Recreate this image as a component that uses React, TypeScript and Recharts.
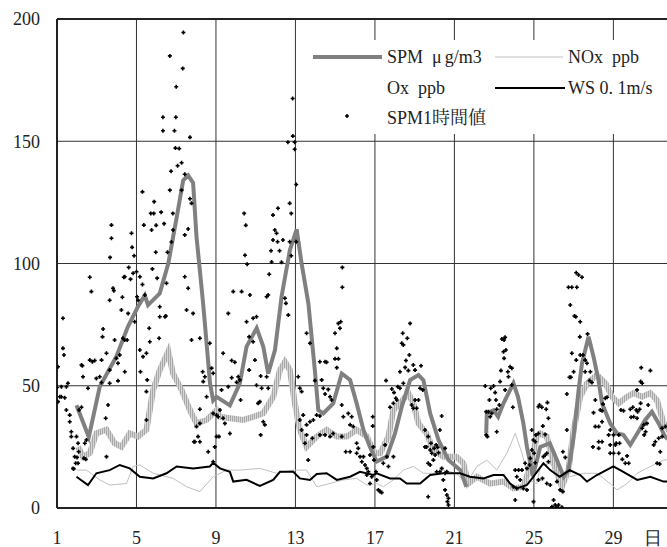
import React from "react"
import { ComposedChart, Line, Scatter, XAxis, YAxis, CartesianGrid, ReferenceLine } from "recharts"

// day (1 = 1st of month), value
const spm: (number | null)[][] = [
    [1.98, 42], [2.6, 29], [3.15, 49.6], [3.99, 62], [4.56, 74], [5.07, 82.3], [5.42, 87], [5.58, 83],
    [6.17, 87.8], [6.6, 100], [7.0, 117.8], [7.35, 134], [7.6, 136], [7.85, 133], [8.02, 111], [8.35, 84],
    [8.5, 70], [8.7, 51], [8.86, 44], [9.03, 45.5], [9.7, 42], [10.2, 51], [10.54, 66], [11.05, 73.6],
    [11.38, 66], [11.63, 55], [11.97, 64.6], [12.3, 86.4], [12.72, 105.5], [13.06, 114], [13.31, 100],
    [13.65, 83.7], [13.98, 56], [14.15, 40], [14.4, 38.7], [14.9, 42.8], [15.33, 55], [15.75, 52.4],
    [16.08, 42.8], [16.42, 32], [16.75, 25], [17.09, 19], [17.6, 21], [18.01, 30.5], [18.35, 41.4],
    [18.77, 52.3], [19.19, 54.4], [19.44, 52.3], [19.78, 38.7], [20.2, 27.8], [20.7, 19.6], [21.3, 15.5],
    [21.6, 8.7], [22.1, null], [22.6, 30.5], [22.63, 38.7], [22.97, 40], [23.2, 37.3], [23.47, 42.8],
    [23.97, 51], [24.2, 45.5], [24.47, 34.6], [24.65, 25], [24.95, 13], [25.32, 25], [25.8, 26.5],
    [26.16, 19.6], [26.5, 12.8], [26.74, 15.5], [27.0, 29.2], [27.25, 48.3], [27.42, 59.2], [27.75, 70],
    [28.0, 61.9], [28.25, 52.3], [28.43, 42.8], [28.84, 34.6], [29.18, 30.5], [29.5, 29.9], [29.85, 25.8],
    [30.2, 30.5], [30.6, 36], [30.94, 39.4], [31.28, 34.6], [31.6, 29.2], [31.95, 27],
]

const nox = [
    [1.98, 15.5], [2.48, 15.5], [3.15, 11.5], [3.65, 9.4], [4.5, 10], [4.83, 17], [5.17, 17.6], [5.84, 14.2],
    [6.85, 12.1], [7.52, 8.7], [8.19, 6.7], [8.86, 12.8], [9.53, 15.5], [10.2, 15.5], [11.21, 16.2],
    [12.05, 14.2], [12.89, 15.5], [13.39, 15.5], [13.56, 15.5], [14.07, 8.7], [14.74, 10], [15.41, 11.5],
    [16.08, 12.1], [16.59, 9.4], [17.09, 10], [17.43, 8.7], [17.93, 11.5], [18.43, 15.5], [18.93, 17],
    [19.44, 14.2], [19.94, 14.2], [20.44, 15.5], [21.1, 14.2], [21.6, 10], [22.13, 17], [22.63, 19.6],
    [23.13, 15.5], [23.64, 22.4], [24.06, 30.5], [24.4, 22.4], [24.73, 11.5], [25.15, 10], [25.32, 17],
    [25.82, 18.3], [26.3, 12.8], [26.8, 12.8], [27.5, 14.2], [28.17, 14.2], [28.84, 10], [29.18, 7.4],
    [29.69, 10], [30.2, 14.2], [30.86, 17], [31.53, 19.6], [31.95, 20],
]

const ox = [
    [2.06, 25], [2.31, 21], [2.65, 22.4], [2.98, 30.5], [3.49, 32], [3.9, 26.5], [4.24, 25], [4.66, 30.5],
    [5.08, 29.2], [5.5, 32], [5.84, 48.3], [6.17, 56.4], [6.6, 64], [6.84, 55], [7.27, 48.3], [7.69, 40],
    [8.02, 34.6], [8.53, 36], [9.03, 40], [9.2, 37.3], [9.7, 36.7], [10.37, 36], [10.87, 37.3], [11.38, 38.7],
    [11.88, 45.5], [12.22, 56.4], [12.47, 59.8], [12.72, 56.4], [12.97, 42.8], [13.22, 32], [13.56, 25],
    [14.07, 29.2], [14.57, 32], [15.08, 29.2], [15.58, 29.2], [16.08, 32], [16.59, 29.2], [16.75, 26.5],
    [17.0, 22.4], [17.26, 22.4], [17.68, 29.2], [17.93, 40], [18.26, 42.8], [18.68, 47], [18.93, 42.8],
    [19.19, 34.6], [19.6, 30.5], [19.94, 23.7], [20.44, 21], [21.1, 21], [21.45, 18.3], [21.7, 10],
    [22.13, 12.8], [22.8, 10], [23.47, 10.8], [23.97, 8], [24.47, 8.7], [24.81, 17], [25.15, 29.2],
    [25.32, 30.5], [25.65, 29.2], [25.99, 18.3], [26.41, 8.7], [26.74, 15.5], [27.0, 32], [27.33, 45.5],
    [27.67, 51], [28.17, 54.4], [28.6, 51], [28.93, 45.5], [29.27, 42.8], [29.69, 45.5], [30.02, 47],
    [30.44, 45.5], [30.86, 47], [31.2, 44], [31.53, 34.6], [31.95, 30],
]

const ws = [
    [1.98, 12.8], [2.56, 9.4], [2.98, 14.2], [3.65, 15.5], [4.16, 17.6], [4.66, 16.2], [5.17, 12.8],
    [5.84, 12.1], [6.51, 14.2], [7.02, 17], [7.85, 16.2], [8.69, 17], [8.86, 18.5], [9.2, 16.2], [9.7, 14.8],
    [9.87, 10.8], [10.54, 11.5], [11.21, 9], [11.88, 11.5], [12.22, 14.8], [12.89, 14.8], [13.22, 12.1],
    [13.73, 11.5], [14.07, 13.9], [14.57, 14.2], [15.08, 11.5], [15.75, 12.8], [16.25, 14.8], [16.92, 13.5],
    [17.09, 14.2], [17.76, 12.1], [18.26, 12.1], [18.6, 10], [19.27, 10], [19.78, 13.5], [20.44, 14.2],
    [21.28, 14.2], [21.78, 12.8], [22.46, 12.1], [22.97, 13.5], [23.47, 13.5], [23.8, 10], [24.14, 8],
    [24.65, 9.4], [24.98, 12.8], [25.1, 14.2], [25.48, 18.3], [25.82, 15.5], [26.3, 12.8], [26.8, 15.5],
    [27.33, 13.5], [27.67, 10.8], [28.17, 13.5], [29.0, 17], [29.5, 14.8], [30.2, 11.5], [30.86, 12.8],
    [31.53, 10.8], [31.95, 11],
]

const spmHourly = [
    [1.0, 49.3], [1.05, 57.8], [1.05, 43.5], [1.14, 45.5], [1.22, 49.6], [1.22, 45.5], [1.3, 77.6], [1.3, 65.3],
    [1.35, 62.6], [1.39, 45.1], [1.47, 49.6], [1.55, 51], [1.47, 40.1], [1.64, 38], [1.64, 35.3], [1.72, 31.2],
    [1.72, 29.2], [1.81, 24.4], [1.81, 16.2], [1.84, 16], [1.89, 21], [1.94, 18.3], [1.98, 29.2], [2.01, 20.7],
    [2.06, 26.5], [2.06, 18.3], [2.09, 23], [2.11, 40.1], [2.23, 41.2], [2.23, 58.5], [2.28, 58.2], [2.31, 53.7],
    [2.35, 20.3], [2.4, 26.5], [2.45, 19.9], [2.48, 27.8], [2.56, 49], [2.65, 60.5], [2.65, 94.4], [2.73, 88.5],
    [2.78, 59.8], [2.9, 60.3], [2.98, 53], [3.15, 53.7], [3.24, 60.5], [3.24, 51.3], [3.29, 70], [3.32, 73.2],
    [3.45, 36.7], [3.49, 63.3], [3.49, 21], [3.57, 42.1], [3.65, 85], [3.65, 56.4], [3.65, 51], [3.67, 102.5],
    [3.74, 115.7], [3.74, 110.3], [3.82, 89.9], [3.86, 88.9], [3.9, 68.7], [3.99, 61.2], [4.07, 59.2],
    [4.07, 52], [4.16, 62.6], [4.24, 81], [4.29, 86.2], [4.32, 69.4], [4.36, 94.4], [4.41, 68.7], [4.41, 94.6],
    [4.41, 55.7], [4.53, 68.7], [4.58, 79.6], [4.61, 98.4], [4.7, 93.6], [4.75, 112.4], [4.78, 106.6],
    [4.83, 96], [4.88, 103.2], [4.91, 76.2], [5.0, 96.6], [5.03, 86.4], [5.08, 85], [5.17, 94.6], [5.17, 64.6],
    [5.2, 55.7], [5.3, 129.3], [5.3, 91.4], [5.33, 61.9], [5.37, 115.7], [5.42, 87.1], [5.5, 63.3], [5.5, 47.6],
    [5.5, 36], [5.54, 52.4], [5.64, 73.5], [5.67, 68], [5.72, 120.5], [5.76, 113.7], [5.8, 97.8], [5.87, 120.5],
    [5.89, 125.3], [5.97, 104.6], [5.99, 115.6], [6.04, 94], [6.14, 69.4], [6.17, 78.2], [6.17, 82.3],
    [6.24, 121], [6.33, 159.8], [6.33, 154.3], [6.39, 116.3], [6.43, 78.2], [6.48, 78.5], [6.51, 91.9],
    [6.56, 104.6], [6.68, 184.9], [6.68, 130], [6.74, 137.7], [6.76, 108.8], [6.83, 120.5], [6.84, 113.7],
    [6.91, 154.3], [6.96, 147.2], [6.98, 159.8], [7.0, 172.3], [7.07, 140], [7.15, 147], [7.27, 141.2],
    [7.27, 130], [7.33, 179.8], [7.36, 194.5], [7.43, 136.5], [7.43, 111.7], [7.43, 94.6], [7.52, 81],
    [7.6, 114.1], [7.6, 89.9], [7.69, 151.6], [7.69, 126.5], [7.77, 124.6], [7.77, 68.7], [7.85, 79.6],
    [7.89, 27.1], [7.94, 27.1], [8.02, 33.3], [8.1, 29.2], [8.19, 69.4], [8.19, 40.4], [8.19, 34.6],
    [8.19, 27.1], [8.33, 55.7], [8.36, 51.7], [8.44, 53.7], [8.53, 45.5], [8.61, 23], [8.69, 67.4],
    [8.78, 57.2], [8.86, 55.1], [8.86, 38.7], [8.86, 18.9], [8.94, 25], [9.03, 38], [9.03, 29.2], [9.11, 37.3],
    [9.15, 29.2], [9.2, 40.1], [9.28, 48.3], [9.36, 63.3], [9.36, 36.7], [9.45, 34.6], [9.62, 79.6],
    [9.62, 49.6], [9.7, 30.5], [9.79, 60.3], [9.79, 53.3], [9.87, 88.5], [9.95, 59.6], [10.04, 51.4],
    [10.12, 53.7], [10.2, 52.4], [10.24, 44.2], [10.29, 88.5], [10.42, 120.5], [10.46, 103.4], [10.5, 115.6],
    [10.54, 76.2], [10.57, 99.7], [10.67, 70], [10.67, 56.4], [10.71, 87.1], [10.87, 77.6], [10.87, 68],
    [10.96, 60.5], [11.04, 78.2], [11.04, 50.2], [11.12, 42.8], [11.21, 43.5], [11.25, 54], [11.25, 29.9],
    [11.3, 49], [11.38, 35.3], [11.46, 34], [11.55, 86.4], [11.55, 53.7], [11.63, 87.1], [11.63, 49],
    [11.68, 95.6], [11.77, 105.2], [11.8, 100.6], [11.87, 119.8], [11.87, 109.6], [11.96, 113.7],
    [12.05, 112.4], [12.12, 122.6], [12.1, 108.9], [12.2, 105.2], [12.3, 100.5], [12.37, 109.6],
    [12.47, 85.8], [12.52, 83.7], [12.62, 149.6], [12.64, 78.9], [12.71, 124.6], [12.71, 108.9],
    [12.79, 120.5], [12.79, 103.2], [12.86, 167.5], [12.87, 152.1], [12.96, 149.6], [12.96, 146.7],
    [13.04, 132.3], [13.04, 108.9], [13.14, 53.7], [13.22, 49], [13.22, 36], [13.31, 47.6], [13.31, 31.9],
    [13.39, 38], [13.48, 26.5], [13.56, 71.5], [13.56, 34], [13.56, 29.9], [13.64, 19.6], [13.73, 67.4],
    [13.73, 35.3], [13.85, 28.5], [13.9, 36], [13.98, 52.1], [14.07, 38], [14.23, 59.8], [14.23, 37.6],
    [14.23, 29.9], [14.32, 52.4], [14.4, 49], [14.49, 59.8], [14.49, 46.6], [14.49, 29.9], [14.57, 59.6],
    [14.65, 48.5], [14.74, 45.5], [14.74, 29.2], [14.82, 44.2], [14.9, 30.5], [14.99, 71.5], [14.99, 61],
    [15.08, 65.3], [15.08, 57.4], [15.16, 75.5], [15.16, 61], [15.24, 73.5], [15.28, 76.2], [15.33, 42.1],
    [15.33, 29.2], [15.36, 98.4], [15.36, 90.3], [15.41, 37.3], [15.53, 23], [15.66, 38.7], [15.75, 34],
    [15.75, 23], [15.83, 37.3], [15.91, 33.3], [16.08, 26.5], [16.08, 22.4], [16.16, 24.4], [16.25, 21],
    [16.34, 18.9], [16.42, 21], [16.5, 17.6], [16.59, 16.2], [16.59, 13.5], [16.67, 14.8], [16.75, 10],
    [16.75, 21.7], [16.84, 12.8], [16.89, 37.3], [16.89, 33.5], [16.92, 25], [16.95, 19.6], [17.05, 14.8],
    [17.09, 11.5], [17.17, 7.4], [17.26, 6.7], [17.34, 6.3], [17.42, 18.3], [17.51, 25.8], [17.56, 52.1],
    [17.6, 21], [17.68, 17], [17.76, 41.2], [17.85, 48.7], [17.93, 42.8], [17.93, 21], [17.96, 47.2],
    [18.05, 44.9], [18.1, 44.2], [18.15, 49.6], [18.26, 49], [18.26, 55.7], [18.35, 67.4], [18.4, 71.5],
    [18.43, 66.7], [18.43, 51], [18.52, 57.5], [18.56, 60.3], [18.63, 69.4], [18.68, 56.2], [18.73, 62.6],
    [18.77, 75.5], [18.85, 42.1], [18.93, 58.5], [18.93, 40.8], [19.02, 56.4], [19.02, 44.2], [19.1, 40.8],
    [19.19, 44.2], [19.27, 49], [19.32, 58.2], [19.41, 48.3], [19.52, 31.9], [19.52, 25], [19.6, 25],
    [19.68, 29.2], [19.68, 18.3], [19.68, 4.6], [19.78, 23.7], [19.78, 17.6], [19.82, 26.5], [19.86, 22.4],
    [19.94, 19.6], [19.98, 24.4], [20.03, 21.7], [20.08, 25.8], [20.11, 14.8], [20.16, 24.8], [20.2, 22.6],
    [20.27, 31.9], [20.27, 14.8], [20.36, 37.6], [20.36, 16.2], [20.44, 11.5], [20.53, 24.4], [20.53, 14.2],
    [20.53, 7.4], [20.62, 14.8], [20.62, 5.3], [20.65, 2.6], [20.7, 4], [20.7, 1.2],
    [22.55, 49.9], [22.6, 39.4], [22.6, 29.9], [22.66, 29.2], [22.71, 39.4], [22.76, 44.2], [22.8, 37.3],
    [22.83, 49], [22.88, 38.7], [22.97, 49.9], [23.05, 47.2], [23.09, 44.2], [23.13, 40.4], [23.13, 31.2],
    [23.26, 42.1], [23.3, 51.7], [23.34, 56.2], [23.39, 69.1], [23.47, 63.9], [23.5, 68.7], [23.5, 61.2],
    [23.55, 69.8], [23.55, 48.3], [23.59, 64.6], [23.69, 55.7], [23.72, 53.7], [23.8, 57.8], [23.89, 57.2],
    [23.89, 50.3], [23.94, 41.2], [23.97, 8.7], [24.06, 15.5], [24.06, 3.3], [24.14, 12.8], [24.14, 8],
    [24.23, 15.5], [24.31, 11.5], [24.4, 15.5], [24.47, 8], [24.56, 18.3], [24.65, 16.2], [24.65, 7.4],
    [24.78, 17.6], [24.82, 20.3], [24.89, 31.9], [24.9, 23.7], [24.97, 27.8], [24.98, 2.6], [25.01, 22.4],
    [25.07, 27.1], [25.07, 18.5], [25.1, 29.9], [25.23, 30.5], [25.23, 41.4], [25.23, 11.5], [25.28, 42.1],
    [25.4, 41.2], [25.43, 12.1], [25.45, 33.5], [25.48, 21], [25.57, 30.1], [25.57, 21.7], [25.62, 40.4],
    [25.65, 22.4], [25.65, 10], [25.68, 43.1], [25.73, 36.7], [25.73, 18.9], [25.82, 9.4], [25.91, 0.5],
    [25.99, 3.3], [26.07, 1.2], [26.16, 0.3], [26.16, 10.8], [26.24, 1.2], [26.32, 7.4], [26.41, 0.3],
    [26.46, 6.7], [26.46, 23], [26.58, 20.7], [26.66, 46.6], [26.66, 31.9], [26.74, 90.3], [26.79, 53.5],
    [26.83, 83], [26.86, 53.5], [26.91, 90.3], [26.91, 63.3], [27.0, 55.7], [27.04, 78.5], [27.11, 78.2],
    [27.13, 96.2], [27.13, 60.5], [27.16, 90.3], [27.25, 95.3], [27.31, 70], [27.33, 76.2], [27.33, 62.6],
    [27.42, 94.4], [27.47, 62.6], [27.58, 60.5], [27.58, 55.7], [27.67, 59.2], [27.7, 71.2], [27.8, 52.1],
    [27.84, 55.7], [27.92, 51.3], [27.97, 25], [28.0, 39], [28.09, 44.2], [28.09, 33.3], [28.26, 33.3],
    [28.26, 27.1], [28.26, 24.4], [28.34, 40.1], [28.43, 39.8], [28.43, 35.3], [28.43, 27.1], [28.48, 42.5],
    [28.59, 44.9], [28.68, 45.3], [28.76, 29.9], [28.84, 31.9], [28.84, 25.8], [28.84, 22.4], [29.01, 29.9],
    [29.01, 22.4], [29.1, 25.8], [29.14, 26.5], [29.27, 29.9], [29.27, 22.4], [29.31, 26.5], [29.38, 40.1],
    [29.45, 19.9], [29.51, 39.8], [29.6, 18.3], [29.69, 21.3], [29.77, 18.3], [29.85, 40.4], [29.89, 37.1],
    [29.98, 41.2], [30.02, 37.3], [30.15, 40.1], [30.19, 48.3], [30.19, 36.7], [30.22, 39.4], [30.32, 40.4],
    [30.37, 51.7], [30.37, 42.8], [30.4, 57.4], [30.45, 51], [30.45, 32.6], [30.53, 34], [30.55, 29.9],
    [30.62, 31.2], [30.69, 34.6], [30.75, 42.1], [30.86, 56.2], [31.03, 25.8], [31.11, 27.1], [31.2, 18.3],
    [31.28, 28.5], [31.33, 18], [31.36, 23], [31.45, 29.2], [31.45, 32.6], [31.62, 33.3],
]

const xDomain = [1, 32]
const xTicks = [1, 5, 9, 13, 17, 21, 25, 29, 31]
const gridDays = [5, 9, 13, 17, 21, 25, 29]
const yTicks = [0, 50, 100, 150, 200]

const toRows = (arr: (number | null)[][]) => arr.map(([d, v]) => ({ d, v }))

const FONT = "'Liberation Serif', 'Times New Roman', 'DejaVu Serif', serif"
const JP_FONT = "'Noto Serif CJK JP', 'Noto Sans CJK JP', serif"
const INK = "#222"

const Dot = (props: any) => {
    const { cx, cy } = props
    if (cx == null || cy == null) return null
    return <path d={`M${cx - 2},${cy}h4M${cx},${cy - 2}v4`} stroke="#000" strokeWidth={1.6} />
}

function LegendBox() {
    const text: React.CSSProperties = { position: "absolute", fontFamily: FONT, fontSize: 18, color: INK, whiteSpace: "pre", lineHeight: "20px" }
    return (
        <div style={{ position: "absolute", left: 305, top: 40, width: 400, height: 94, background: "#fff" }}>
            <svg width={400} height={94} style={{ position: "absolute", left: 0, top: 0 }}>
                <line x1={8} x2={77} y1={17} y2={17} stroke="#808080" strokeWidth={4} />
                <line x1={190} x2={258} y1={17} y2={17} stroke="#c0c0c0" strokeWidth={1} />
                <line x1={190} x2={260} y1={48} y2={48} stroke="#000" strokeWidth={2} />
                <path d="M40,76h4M42,74v4" stroke="#000" strokeWidth={1.6} />
            </svg>
            <div style={{ ...text, left: 82, top: 7 }}>SPM  <span style={{ letterSpacing: 3 }}>μ</span>g/m3</div>
            <div style={{ ...text, left: 263, top: 7 }}>NOx  ppb</div>
            <div style={{ ...text, left: 82, top: 38 }}>Ox  ppb</div>
            <div style={{ ...text, left: 263, top: 38 }}>WS 0. 1m/s</div>
            <div style={{ ...text, left: 82, top: 66 }}>SPM1<span style={{ fontFamily: JP_FONT }}>時間値</span></div>
        </div>
    )
}

// vertical grid at the day ticks (the "日" tick has no grid line)
const verticalGrid = ({ offset }: any) =>
    gridDays.map((d) => offset.left + ((d - xDomain[0]) / (xDomain[1] - xDomain[0])) * offset.width)

export default function App() {
    const axisLine = { stroke: INK, strokeWidth: 2 }
    const tick = { fill: INK, fontSize: 18, fontFamily: FONT }
    return (
        <div style={{ position: "absolute", left: 0, top: 0, width: 667, height: 547, overflow: "hidden", background: "#fff" }}>
            <ComposedChart width={673} height={547} margin={{ top: 19, right: 0, bottom: 0, left: 0 }}>
                <defs>
                    <pattern id="oxHatch" patternUnits="userSpaceOnUse" width={2} height={2}>
                        <rect x={0} y={0} width={1} height={2} fill="#a8a8a8" />
                        <rect x={1} y={0} width={1} height={2} fill="#d6d6d6" />
                    </pattern>
                </defs>
                <CartesianGrid stroke="#333" strokeWidth={1} verticalCoordinatesGenerator={verticalGrid} />
                <XAxis
                    type="number"
                    dataKey="d"
                    domain={xDomain}
                    ticks={xTicks}
                    interval={0}
                    tickFormatter={(t: number) => (t === 31 ? "日" : String(t))}
                    height={39}
                    tickSize={0}
                    tickMargin={23}
                    axisLine={axisLine}
                    tick={tick}
                    allowDataOverflow
                />
                <YAxis
                    type="number"
                    dataKey="v"
                    domain={[0, 200]}
                    ticks={yTicks}
                    interval={0}
                    width={57}
                    tickSize={0}
                    tickMargin={17}
                    axisLine={axisLine}
                    tick={tick}
                    allowDataOverflow
                />
                <ReferenceLine y={200} stroke={INK} strokeWidth={2} />
                <Line data={toRows(ox)} dataKey="v" stroke="url(#oxHatch)" strokeWidth={6} dot={false} isAnimationActive={false} />
                <Line data={toRows(nox)} dataKey="v" stroke="#c0c0c0" strokeWidth={1} dot={false} isAnimationActive={false} />
                <Line data={toRows(spm)} dataKey="v" stroke="#808080" strokeWidth={4} dot={false} isAnimationActive={false} />
                <Line data={toRows(ws)} dataKey="v" stroke="#000" strokeWidth={2} dot={false} isAnimationActive={false} />
                <Scatter data={toRows(spmHourly)} dataKey="v" shape={<Dot />} isAnimationActive={false} />
            </ComposedChart>
            <LegendBox />
        </div>
    )
}
